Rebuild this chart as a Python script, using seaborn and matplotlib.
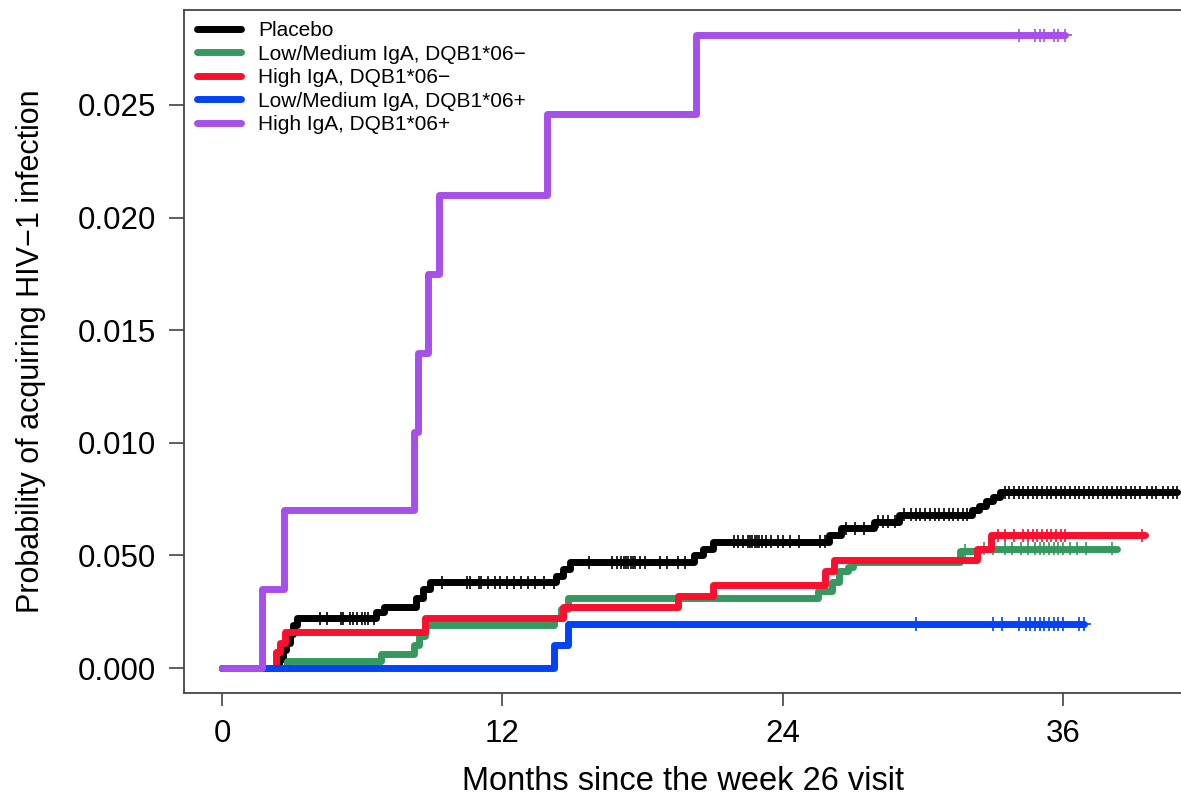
import numpy as np
import pandas as pd
import matplotlib
matplotlib.use("Agg")
import matplotlib.pyplot as plt
import seaborn as sns

# Groups (legend order) and colours
groups = ["Placebo", "Low/Medium IgA, DQB1*06\u2212", "High IgA, DQB1*06\u2212",
          "Low/Medium IgA, DQB1*06+", "High IgA, DQB1*06+"]
colors = ["#000000", "#35995F", "#FA0F2E", "#0343F8", "#A64FEA"]

# Step curves (time in months, cumulative probability)
placebo_t = [0, 2.45, 2.6, 2.75, 2.9, 3.05, 3.2, 6.6, 6.95, 8.3, 8.6, 8.9, 14.3, 14.6, 14.9,
             20.2, 20.6, 21.0, 26.0, 26.5, 27.9, 29.0, 32.1, 32.4, 32.7, 33.0, 33.3, 40.9]
placebo_v = [0, .0004, .0008, .0011, .0015, .0019, .0022, .0025, .0027, .0031, .0035, .0038,
             .0041, .0044, .0047, .0050, .0053, .0056, .0059, .0062, .0065, .0068, .0070,
             .0072, .0074, .0076, .0078, .0078]

lowmed_neg_t = [0, 2.8, 6.8, 8.2, 8.45, 8.7, 14.2, 14.5, 14.8, 25.5, 26.1, 26.4, 26.8, 27.0,
                31.6, 32.4, 38.3]
lowmed_neg_v = [0, .0003, .0006, .0010, .0014, .0019, .0022, .0026, .0031, .0034, .0038,
                .0043, .0045, .0047, .0052, .0053, .0053]

high_neg_t = [0, 2.3, 2.5, 2.7, 8.7, 14.6, 19.5, 21.0, 25.8, 26.2, 32.3, 32.9, 39.5]
high_neg_v = [0, .0007, .0011, .0016, .0022, .0027, .0032, .0037, .0043, .0048, .0053, .0059, .0059]

lowmed_pos_t = [0, 14.2, 14.8, 36.9]
lowmed_pos_v = [0, .0010, .00195, .00195]

high_pos_t = [0, 1.7, 2.65, 8.2, 8.4, 8.8, 9.3, 13.9, 20.3, 36.1]
high_pos_v = [0, .0035, .0070, .0105, .0140, .0175, .0210, .0246, .0281, .0281]

# Censoring times (+ marks)
placebo_cens = [4.2, 4.5, 5.1, 5.2, 5.5, 5.6, 5.8, 6.0, 6.1, 6.25, 6.5,
                9.4, 10.5, 10.6, 11.0, 11.1, 11.4, 11.7, 11.9, 12.2, 12.5, 12.8, 13.1, 13.4, 13.8, 14.2,
                15.7, 16.7, 16.9, 17.1, 17.2, 17.3, 17.4, 17.5, 17.6, 17.7, 17.9, 18.1, 18.75, 19.05,
                19.5, 19.8,
                21.9, 22.1, 22.3, 22.5, 22.6, 22.7, 22.8, 22.9, 23.0, 23.1, 23.3, 23.5, 23.8, 24.0,
                24.3, 24.7, 25.6, 25.8,
                26.7, 27.1, 27.5, 28.1, 28.3, 28.5, 28.8,
                29.2, 29.5, 29.7, 29.9, 30.1, 30.3, 30.5, 30.7, 30.9, 31.1, 31.3, 31.5, 31.7, 31.9,
                33.5, 33.7, 33.9, 34.1, 34.3, 34.5, 34.7, 34.9, 35.1, 35.3, 35.5, 35.7, 35.9, 36.1,
                36.3, 36.5, 36.7, 36.9, 37.1, 37.3, 37.5, 37.7, 37.9, 38.1, 38.3, 38.5, 38.7,
                38.9, 39.1, 39.3, 39.6, 39.8, 40.0, 40.3, 40.5, 40.7, 40.9]
lowmed_neg_cens = [31.8, 32.6, 33.0, 33.5, 33.8, 34.2, 34.5, 34.8, 35.0, 35.2, 35.4, 35.6,
                   35.8, 36.0, 36.3, 36.6, 37.0, 38.1]
high_neg_cens = [33.2, 33.5, 33.9, 34.3, 34.5, 34.7, 34.9, 35.1, 35.3, 35.5, 35.7, 35.9,
                 36.1, 39.4]
lowmed_pos_cens = [29.7, 33.0, 33.4, 34.1, 34.4, 34.6, 34.8, 35.0, 35.2, 35.4, 35.6, 35.8,
                   36.0, 36.7, 36.9]
high_pos_cens = [34.1, 34.8, 35.0, 35.2, 35.6, 35.8, 36.1]

x_ticks = [0, 12, 24, 36]
y_ticks = [0.000, 0.005, 0.010, 0.015, 0.020, 0.025]
y_ticklabels = ["0.000", "0.050", "0.010", "0.015", "0.020", "0.025"]

curves = [(placebo_t, placebo_v, placebo_cens),
          (lowmed_neg_t, lowmed_neg_v, lowmed_neg_cens),
          (high_neg_t, high_neg_v, high_neg_cens),
          (lowmed_pos_t, lowmed_pos_v, lowmed_pos_cens),
          (high_pos_t, high_pos_v, high_pos_cens)]

line_rows, cens_rows = [], []
for g, (t, v, c) in zip(groups, curves):
    for ti, vi in zip(t, v):
        line_rows.append((g, ti, vi))
    for ci in c:
        idx = np.searchsorted(t, ci, side="right") - 1
        cens_rows.append((g, ci, v[idx]))
df_lines = pd.DataFrame(line_rows, columns=["group", "month", "prob"])
df_cens = pd.DataFrame(cens_rows, columns=["group", "month", "prob"])
palette = dict(zip(groups, colors))

sns.set_theme(style="white")
plt.rcParams["font.family"] = ["Liberation Sans", "DejaVu Sans"]
plt.rcParams["text.color"] = "black"
plt.rcParams["axes.labelcolor"] = "black"
plt.rcParams["xtick.color"] = "black"
plt.rcParams["ytick.color"] = "black"

fig = plt.figure(figsize=(11.81, 7.98), dpi=100)
ax = fig.add_axes([184 / 1181, 105 / 798, 1 - 184 / 1181, 683 / 798])

sns.lineplot(data=df_lines, x="month", y="prob", hue="group", hue_order=groups,
             palette=palette, estimator=None, sort=False, drawstyle="steps-post",
             linewidth=5, solid_joinstyle="round", solid_capstyle="round", ax=ax)
sns.scatterplot(data=df_cens, x="month", y="prob", hue="group", hue_order=groups,
                palette=palette, marker="+", s=90, linewidth=1.2, legend=False, ax=ax)

px_per_month = (1063 - 222) / 36
ax.set_xlim((184 - 222) / px_per_month, (1181 - 222) / px_per_month)
px_per_unit = (668 - 105) / 0.025
ax.set_ylim(-(693 - 668) / px_per_unit, (668 - 10) / px_per_unit)

ax.set_xticks(x_ticks)
ax.set_xticklabels([str(x) for x in x_ticks])
ax.set_yticks(y_ticks)
ax.set_yticklabels(y_ticklabels)
ax.tick_params(axis="both", labelsize=22.5, color="#333333", width=1.1, direction="out",
               left=True, bottom=True)
ax.tick_params(axis="y", length=11, pad=9)
ax.tick_params(axis="x", length=9, pad=10)

ax.set_xlabel("Months since the week 26 visit", fontsize=23.5, labelpad=12)
ax.set_ylabel("Probability of acquiring HIV\u22121 infection", fontsize=22, labelpad=23)

for side in ["left", "bottom", "top"]:
    ax.spines[side].set_color("#444444")
    ax.spines[side].set_linewidth(1.3)
ax.spines["right"].set_visible(False)

handles, labels = ax.get_legend_handles_labels()
leg = ax.legend(handles, labels, loc="upper left", bbox_to_anchor=(13 / 997, 1 - 11 / 683),
                frameon=False, fontsize=15, handlelength=2.1, handletextpad=0.85,
                labelspacing=0.22, borderpad=0, borderaxespad=0)
for h in leg.legend_handles:
    h.set_linewidth(5)

fig.savefig("out.png", dpi=100)
